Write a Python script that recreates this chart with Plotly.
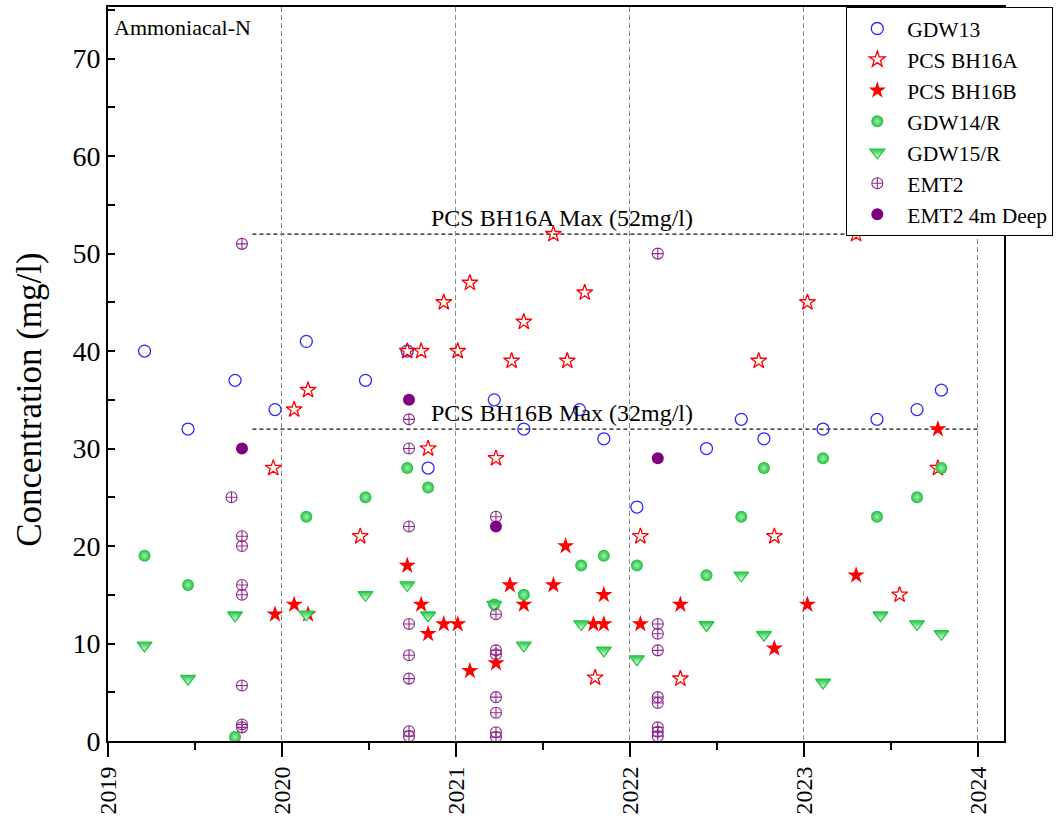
import plotly.graph_objects as go

# Sampling dates as decimal years, and ammoniacal-N concentrations (mg/l)
gdw13_year = [2019.21, 2019.46, 2019.73, 2019.96, 2020.14, 2020.48, 2020.72, 2020.84,
              2021.22, 2021.39, 2021.71, 2021.85, 2022.04, 2022.44, 2022.64, 2022.77,
              2023.11, 2023.42, 2023.65, 2023.79]
gdw13_conc = [40, 32, 37, 34, 41, 37, 40, 28, 35, 32, 34, 31, 24, 30, 33, 31, 32, 33, 34, 36]

bh16a_year = [2019.95, 2020.07, 2020.15, 2020.45, 2020.72, 2020.80, 2020.84, 2020.93,
              2021.01, 2021.08, 2021.23, 2021.32, 2021.39, 2021.56, 2021.64, 2021.74,
              2021.80, 2022.06, 2022.29, 2022.74, 2022.83, 2023.02, 2023.30, 2023.55, 2023.77]
bh16a_conc = [28, 34, 36, 21, 40, 40, 30, 45, 40, 47, 29, 39, 43, 52, 39, 46,
              6.5, 21, 6.4, 39, 21, 45, 52, 15, 28]

bh16b_year = [2019.96, 2020.07, 2020.15, 2020.72, 2020.80, 2020.84, 2020.93, 2021.01,
              2021.08, 2021.23, 2021.31, 2021.39, 2021.56, 2021.63, 2021.79, 2021.85,
              2021.85, 2022.06, 2022.29, 2022.83, 2023.02, 2023.30, 2023.77]
bh16b_conc = [13, 14, 13, 18, 14, 11, 12, 12, 7.2, 8, 16, 14, 16, 20, 12, 12,
              15, 12, 14, 9.5, 14, 17, 32]

gdw14_year = [2019.21, 2019.46, 2019.73, 2020.14, 2020.48, 2020.72, 2020.84, 2021.22,
              2021.39, 2021.72, 2021.85, 2022.04, 2022.44, 2022.64, 2022.77, 2023.11,
              2023.42, 2023.65, 2023.79]
gdw14_conc = [19, 16, 0.4, 23, 25, 28, 26, 14, 15, 18, 19, 18, 17, 23, 28, 29, 23, 25, 28]

gdw15_year = [2019.21, 2019.46, 2019.73, 2020.14, 2020.48, 2020.72, 2020.84, 2021.22,
              2021.39, 2021.72, 2021.85, 2022.04, 2022.44, 2022.64, 2022.77, 2023.11,
              2023.44, 2023.65, 2023.79]
gdw15_conc = [9.8, 6.4, 12.9, 13, 15, 16, 12.9, 14, 9.8, 12, 9.3, 8.4, 11.9, 17, 10.9,
              6, 12.9, 12, 11]

emt2_year = [2019.71, 2019.77, 2019.77, 2019.77, 2019.77, 2019.77, 2019.77, 2019.77, 2019.77,
             2020.73, 2020.73, 2020.73, 2020.73, 2020.73, 2020.73, 2020.73, 2020.73,
             2021.23, 2021.23, 2021.23, 2021.23, 2021.23, 2021.23, 2021.23, 2021.23,
             2022.16, 2022.16, 2022.16, 2022.16, 2022.16, 2022.16, 2022.16, 2022.16, 2022.16]
emt2_conc = [25, 51, 21, 20, 16, 15, 5.7, 1.7, 1.4,
             33, 30, 22, 12, 8.8, 6.4, 1.0, 0.5,
             23, 13, 9.3, 8.9, 4.5, 2.9, 0.9, 0.4,
             50, 12, 11, 9.3, 4.5, 3.9, 1.4, 0.95, 0.5]

emt2_deep_year = [2019.77, 2020.73, 2021.23, 2022.16]
emt2_deep_conc = [30, 35, 22, 29]

# Consent limits
limit_names = ["PCS BH16A Max (52mg/l)", "PCS BH16B Max (32mg/l)"]
limit_values = [52, 32]
limit_start, limit_end = 2019.83, 2024.0

year_ticks = [2019, 2020, 2021, 2022, 2023, 2024]
conc_ticks = [0, 10, 20, 30, 40, 50, 60, 70]

SERIF = "Liberation Serif, Times New Roman, serif"

fig = go.Figure()

fig.add_trace(go.Scatter(
    x=gdw13_year, y=gdw13_conc, mode="markers", name="GDW13",
    marker=dict(symbol="circle-open", size=12, color="#2a2aff", line=dict(width=1.3)),
))
fig.add_trace(go.Scatter(
    x=bh16a_year, y=bh16a_conc, mode="markers", name="PCS BH16A",
    marker=dict(symbol="star-open", size=12, color="#ff0000", line=dict(width=1.3)),
))
fig.add_trace(go.Scatter(
    x=bh16b_year, y=bh16b_conc, mode="markers", name="PCS BH16B",
    marker=dict(symbol="star", size=13, color="#ff0000", line=dict(width=0)),
))
fig.add_trace(go.Scatter(
    x=gdw14_year, y=gdw14_conc, mode="markers", name="GDW14/R",
    marker=dict(symbol="circle", size=12, color="#1fbf3c",
                gradient=dict(type="radial", color="#9ff0ae"),
                line=dict(width=0)),
))
fig.add_trace(go.Scatter(
    x=gdw15_year, y=gdw15_conc, mode="markers", name="GDW15/R",
    marker=dict(symbol="triangle-down", size=13, color="#22c844",
                gradient=dict(type="vertical", color="#ffffff"),
                line=dict(width=1.3, color="#22c844")),
))
fig.add_trace(go.Scatter(
    x=emt2_year, y=emt2_conc, mode="markers", name="EMT2",
    marker=dict(symbol="circle-cross-open", size=11, color="#8e2a8e", line=dict(width=1.1)),
))
fig.add_trace(go.Scatter(
    x=emt2_deep_year, y=emt2_deep_conc, mode="markers", name="EMT2 4m Deep",
    marker=dict(symbol="circle", size=12, color="#800080", line=dict(width=0)),
))

for name, value in zip(limit_names, limit_values):
    fig.add_shape(type="line", xref="x", yref="y", x0=limit_start, x1=limit_end,
                  y0=value, y1=value, line=dict(color="#111111", width=1.2, dash="4px,3px"),
                  layer="below")
    fig.add_annotation(x=2021.61, y=value, xref="x", yref="y", text=name,
                       showarrow=False, xanchor="center", yanchor="bottom", yshift=1,
                       font=dict(family=SERIF, size=24, color="#000000"))

fig.add_annotation(x=0, y=1, xref="paper", yref="paper", text="Ammoniacal-N",
                   showarrow=False, xanchor="left", yanchor="top", xshift=4, yshift=-6,
                   font=dict(family=SERIF, size=22, color="#000000"))

# Vertical axis title
fig.add_annotation(x=0, y=35, xref="paper", yref="y", text="Concentration (mg/l)",
                   showarrow=False, textangle=-90, xanchor="center", yanchor="middle",
                   xshift=-78, font=dict(family=SERIF, size=35, color="#000000"))

fig.update_layout(
    width=1064, height=820,
    margin=dict(l=108, r=60, t=5, b=78),
    paper_bgcolor="white", plot_bgcolor="white",
    font=dict(family=SERIF, color="#000000"),
    showlegend=True,
    legend=dict(
        x=0.824, y=1.0, xanchor="left", yanchor="top",
        bgcolor="white", bordercolor="#000000", borderwidth=1,
        font=dict(family=SERIF, size=21.5, color="#000000"),
        itemwidth=50, tracegroupgap=0,
    ),
    xaxis=dict(
        range=[2019, 2024.15], tickmode="array", tickvals=year_ticks,
        ticktext=[str(v) for v in year_ticks], tickangle=-90,
        tickfont=dict(family=SERIF, size=24),
        ticks="outside", ticklen=14, tickwidth=2, tickcolor="#000000",
        minor=dict(tickmode="linear", tick0=2019.5, dtick=1, ticks="outside",
                   ticklen=7, tickwidth=2, tickcolor="#000000", showgrid=False),
        showline=True, linecolor="#000000", linewidth=2, mirror=True,
        showgrid=True, gridcolor="#8a8a8a", gridwidth=1, griddash="5px,3px",
        zeroline=False,
    ),
    yaxis=dict(
        range=[0, 75.3], tickmode="array", tickvals=conc_ticks,
        tickfont=dict(family=SERIF, size=28),
        ticks="inside", ticklen=7, tickwidth=2, tickcolor="#000000",
        minor=dict(tickmode="linear", tick0=5, dtick=10, ticks="inside",
                   ticklen=7, tickwidth=2, tickcolor="#000000", showgrid=False),
        showline=True, linecolor="#000000", linewidth=2, mirror=True,
        showgrid=False, zeroline=False,
    ),
)

fig.write_html("out.html")
